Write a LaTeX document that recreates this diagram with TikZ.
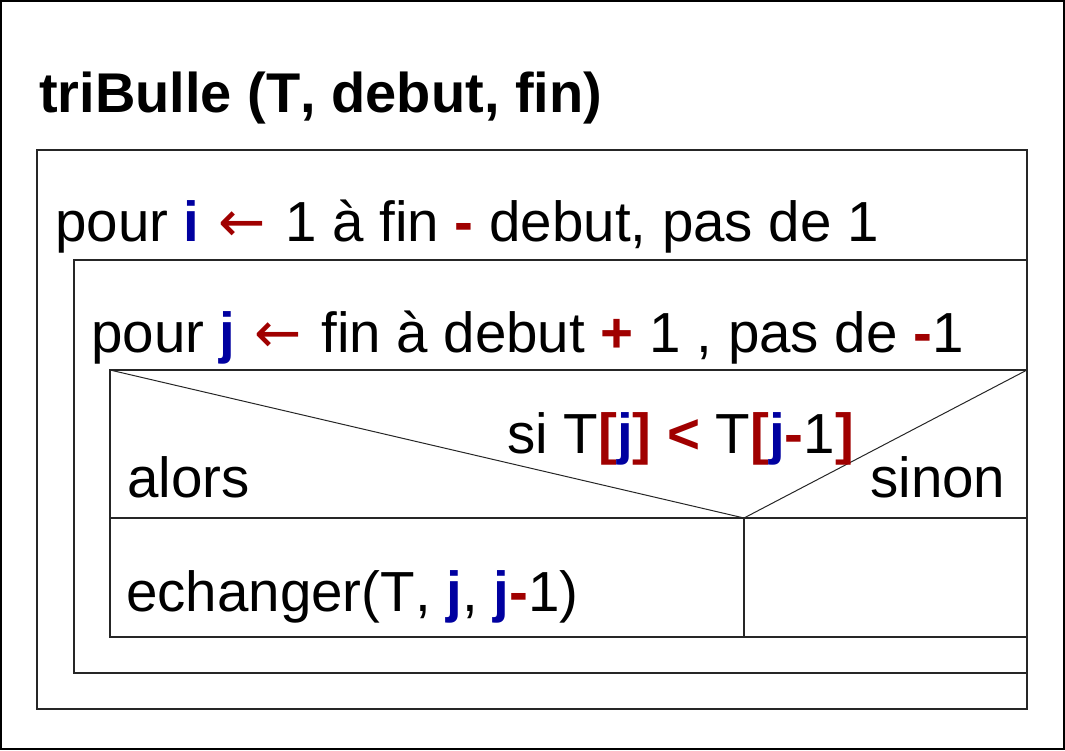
\documentclass[tikz,border=0pt]{standalone}
\usepackage{fontspec}
\setmainfont[Kerning=Off]{Liberation Sans}
\newfontfamily\arrowfont{DejaVu Sans}
\definecolor{kred}{HTML}{A00000}
\definecolor{kblue}{HTML}{0000A0}
\newcommand{\rb}[1]{\textcolor{kred}{\textbf{#1}}}
\newcommand{\bb}[1]{\textcolor{kblue}{\textbf{#1}}}
\newcommand{\ra}{\makebox[0.96em]{\textcolor{kred}{\arrowfont ←}}}
\begin{document}
\begin{tikzpicture}[x=1pt,y=-1pt,
  txt/.style={anchor=base west, inner sep=0pt, font=\fontsize{56.5}{60}\selectfont},
  ttl/.style={anchor=base west, inner sep=0pt, font=\bfseries\fontsize{56}{60}\selectfont},
  box/.style={draw=black!85, line width=1.5pt},
  diag/.style={draw=black!85, line width=1pt}]
\useasboundingbox (0,0) rectangle (1065,750);
\draw[line width=2pt] (1,1) rectangle (1064,749);
\draw[box] (37,150) rectangle (1027,709);
\draw[box] (74,260) rectangle (1027,673);
\draw[box] (110,370) rectangle (1027,637);
\draw[box] (110,518) -- (1027,518);
\draw[box] (744,518) -- (744,637);
\draw[diag] (110,370) -- (744,518) -- (1027,370);
\node[ttl] (title) at (39,112) {triBulle (T, debut, fin)};
\node[txt] (pouri) at (55,241) {pour \bb{i} \ra{} 1 à fin \rb{-} debut, pas de 1};
\node[txt] (pourj) at (91,352) {pour \bb{j} \ra{} fin à debut \rb{+} 1 , pas de \rb{-}1};
\node[txt] (si) at (507,453) {si T\rb{[}\bb{j}\rb{]} \rb{<} T\rb{[}\bb{j}\rb{-}1\rb{]}};
\node[txt] (alors) at (127,497) {alors};
\node[txt] (sinon) at (870,497) {sinon};
\node[txt] (ech) at (126,611) {echanger(T, \bb{j}, \bb{j}\rb{-}1)};
\end{tikzpicture}
\end{document}
